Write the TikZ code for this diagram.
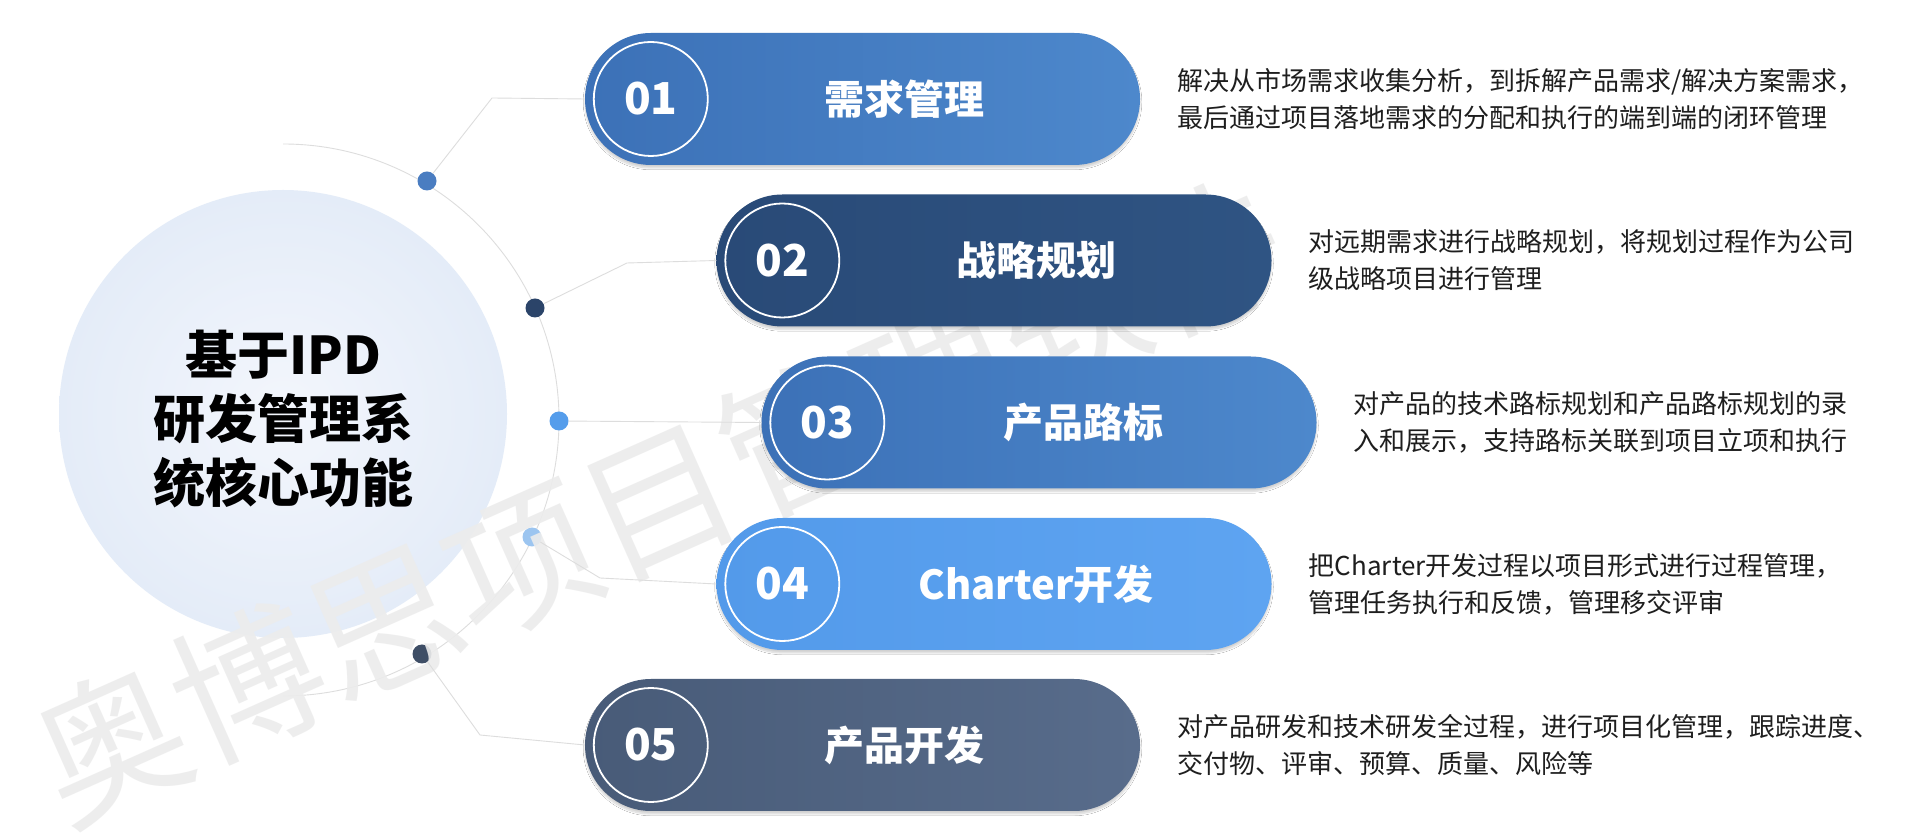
\documentclass[tikz,border=0pt]{standalone}
\usepackage{fontspec}
\newfontfamily\cjk{Noto Sans CJK SC}
\usetikzlibrary{shapes.misc,shadows.blur,calc}
\definecolor{pAl}{HTML}{3C71B7}
\definecolor{pAr}{HTML}{4D88CC}
\definecolor{pBl}{HTML}{294A77}
\definecolor{pBr}{HTML}{2F5483}
\definecolor{pDl}{HTML}{539AEA}
\definecolor{pDr}{HTML}{5EA4F1}
\definecolor{pEl}{HTML}{485B78}
\definecolor{pEr}{HTML}{586C8B}
\definecolor{dA}{HTML}{4A7DC1}
\definecolor{dB}{HTML}{2B4469}
\definecolor{dC}{HTML}{559DEB}
\definecolor{dD}{HTML}{9CC5F0}
\definecolor{dE}{HTML}{3E4E66}
\definecolor{coreIn}{HTML}{F3F6FC}
\definecolor{coreOut}{HTML}{E4ECF8}
\definecolor{txt}{HTML}{1E1E1E}
\definecolor{linegray}{HTML}{DDDDDD}
\definecolor{wm}{HTML}{ECECEC}
\begin{document}
\begin{tikzpicture}[x=1pt,y=1pt,
  pill/.style={rounded rectangle, minimum width=555pt, minimum height=132pt, inner sep=0pt,
    blur shadow={shadow xshift=0pt,shadow yshift=-3pt,shadow blur steps=8,shadow opacity=18}},
  numring/.style={circle, draw=white, line width=1.8pt, minimum size=114pt, inner sep=0pt,
    text=white, font=\cjk\bfseries\fontsize{44}{44}\selectfont},
  lbl/.style={text=white, font=\cjk\bfseries\fontsize{40}{40}\selectfont, inner sep=0pt},
  desc/.style={anchor=west, align=left, font=\cjk\fontsize{26}{37}\selectfont, text=txt, inner sep=0pt},
  dotnode/.style={circle, minimum size=19pt, inner sep=0pt},
  conn/.style={draw=linegray, line width=0.9pt}]
\fill[white] (0,0) rectangle (1918,832);
\useasboundingbox (0,0) rectangle (1918,832);
% core circle
\node[circle, minimum size=448pt, inner sep=0pt, inner color=coreIn, outer color=coreOut] (core) at (283,418) {};
% arc and dots
\draw[conn] (283,688) arc[start angle=90, end angle=-90, radius=276pt];
\node[dotnode, fill=dA] (d1) at (427,651) {};
\node[dotnode, fill=dB] (d2) at (535,524) {};
\node[dotnode, fill=dC] (d3) at (559,411) {};
\node[dotnode, fill=dD] (d4) at (532,295) {};
\node[dotnode, fill=dE] (d5) at (422,178) {};
% watermark
\node[anchor=west, rotate=24, inner sep=0pt, text=wm, opacity=0.9,
  font=\cjk\fontsize{150}{150}\selectfont] (wmark) at (42,58) {奥博思项目管理软件};
% pills
\node[pill, left color=pAl, right color=pAr] (p1) at (862.5,733) {};
\node[pill, left color=pBl, right color=pBr] (p2) at (994,571.5) {};
\node[pill, left color=pAl, right color=pAr] (p3) at (1039,409.5) {};
\node[pill, left color=pDl, right color=pDr] (p4) at (994,248) {};
\node[pill, left color=pEl, right color=pEr] (p5) at (862.5,87) {};
% connectors
\draw[conn] (d1) -- (492,734) -- (p1.west);
\draw[conn] (d2) -- (627,569) -- (p2.west);
\draw[conn] (d3) -- (p3.west);
\draw[conn] (d4) -- (600,254) -- (p4.west);
\draw[conn] (d5) -- (480,97) -- (p5.west);
% number rings
\node[numring] (n1) at ($(p1.west)+(66pt,0)$) {01};
\node[numring] (n2) at ($(p2.west)+(66pt,0)$) {02};
\node[numring] (n3) at ($(p3.west)+(66pt,0)$) {03};
\node[numring] (n4) at ($(p4.west)+(66pt,0)$) {04};
\node[numring] (n5) at ($(p5.west)+(66pt,0)$) {05};
% labels
\node[lbl] (l1) at ($(p1.west)+(320pt,0)$) {需求管理};
\node[lbl] (l2) at ($(p2.west)+(320pt,0)$) {战略规划};
\node[lbl] (l3) at ($(p3.west)+(322pt,0)$) {产品路标};
\node[lbl] (l4) at ($(p4.west)+(320pt,0)$) {Charter开发};
\node[lbl] (l5) at ($(p5.west)+(320pt,0)$) {产品开发};
% descriptions
\node[desc] (t1) at ($(p1.east)+(37pt,0)$) {解决从市场需求收集分析，到拆解产品需求/解决方案需求，\\最后通过项目落地需求的分配和执行的端到端的闭环管理};
\node[desc] (t2) at ($(p2.east)+(37pt,0)$) {对远期需求进行战略规划，将规划过程作为公司\\级战略项目进行管理};
\node[desc] (t3) at ($(p3.east)+(37pt,0)$) {对产品的技术路标规划和产品路标规划的录\\入和展示，支持路标关联到项目立项和执行};
\node[desc] (t4) at ($(p4.east)+(37pt,0)$) {把Charter开发过程以项目形式进行过程管理，\\管理任务执行和反馈，管理移交评审};
\node[desc] (t5) at ($(p5.east)+(37pt,0)$) {对产品研发和技术研发全过程，进行项目化管理，跟踪进度、\\交付物、评审、预算、质量、风险等};
% title
\node[align=center, text=black, inner sep=0pt, font=\cjk\bfseries\fontsize{52}{64}\selectfont] (title) at (283,413) {基于IPD\\研发管理系\\统核心功能};
\end{tikzpicture}
\end{document}
